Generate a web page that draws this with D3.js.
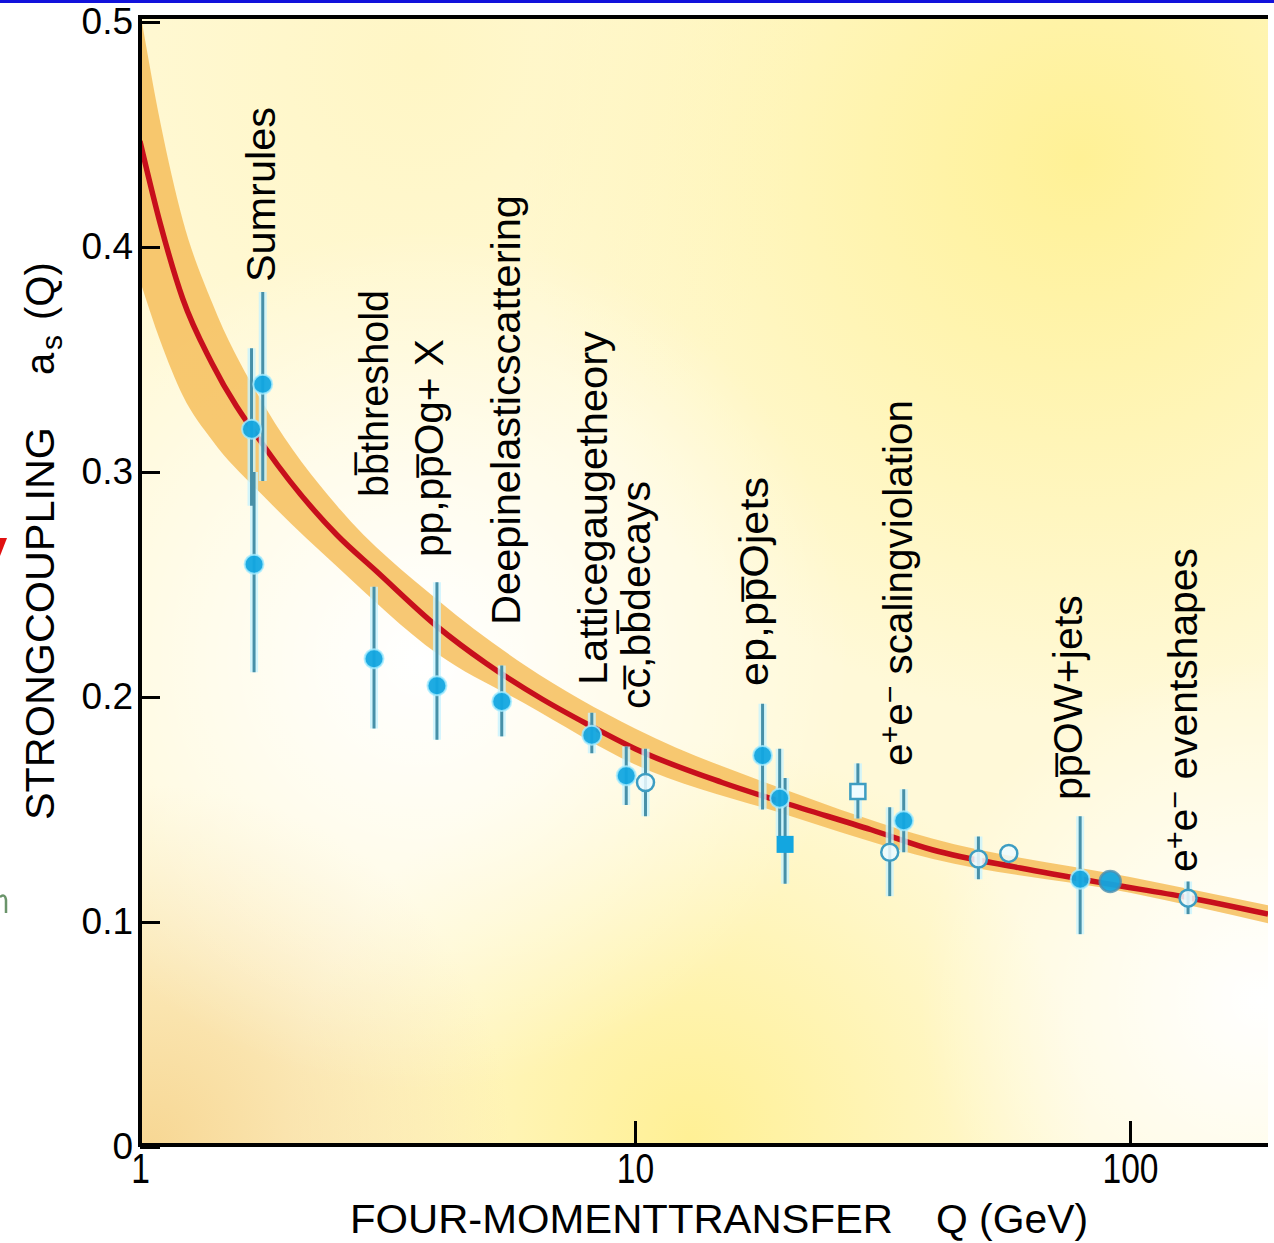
<!DOCTYPE html>
<html>
<head>
<meta charset="utf-8">
<script src="https://cdn.jsdelivr.net/npm/d3@7"></script>
<style>
body { margin: 0; background: #fff; }
svg { display: block; font-family: "Liberation Sans", Arial, sans-serif; }
</style>
</head>
<body>
<svg id="chart" width="1274" height="1243"></svg>
<script>
// running coupling curve
const curveQ = [1, 1.1, 1.22, 1.4, 1.8, 2.5, 3, 4, 5, 6.5, 8, 10, 15, 20, 30, 40, 60, 90, 130, 190];
const curveA = [0.447, 0.410, 0.377, 0.348, 0.310, 0.272, 0.256, 0.231, 0.215, 0.199, 0.188, 0.177, 0.162, 0.153, 0.141, 0.132, 0.124, 0.117, 0.111, 0.1035];

// uncertainty band
const bandQ  = [1, 1.1, 1.22, 1.4, 1.8, 2.5, 4, 6, 10, 20, 40, 100, 190];
const bandHi = [0.505, 0.455, 0.412, 0.375, 0.328, 0.285, 0.243, 0.214, 0.186, 0.159, 0.137, 0.120, 0.1075];
const bandLo = [0.385, 0.358, 0.334, 0.314, 0.288, 0.258, 0.219, 0.197, 0.170, 0.148, 0.128, 0.113, 0.0995];

// measurements: Q, alpha, error low, error high, marker
const points = [
  {q: 1.77, a: 0.339, lo: 0.296, hi: 0.380, m: "dot"},
  {q: 1.68, a: 0.319, lo: 0.285, hi: 0.355, m: "dot"},
  {q: 1.70, a: 0.259, lo: 0.211, hi: 0.300, m: "dot"},
  {q: 2.97, a: 0.217, lo: 0.186, hi: 0.249, m: "dot"},
  {q: 3.98, a: 0.205, lo: 0.181, hi: 0.251, m: "dot"},
  {q: 5.38, a: 0.198, lo: 0.1825, hi: 0.214, m: "dot"},
  {q: 8.18, a: 0.183, lo: 0.175, hi: 0.193, m: "dot"},
  {q: 9.6,  a: 0.165, lo: 0.152, hi: 0.178, m: "dot"},
  {q: 10.5, a: 0.162, lo: 0.147, hi: 0.177, m: "ring"},
  {q: 18.1, a: 0.174, lo: 0.150, hi: 0.197, m: "dot"},
  {q: 19.6, a: 0.155, lo: 0.138, hi: 0.177, m: "dot"},
  {q: 20.1, a: 0.1345, lo: 0.117, hi: 0.164, m: "square"},
  {q: 28.2, a: 0.158, lo: 0.146, hi: 0.1705, m: "box"},
  {q: 32.7, a: 0.131, lo: 0.1115, hi: 0.151, m: "ring"},
  {q: 34.9, a: 0.145, lo: 0.131, hi: 0.159, m: "dot"},
  {q: 49.4, a: 0.128, lo: 0.119, hi: 0.138, m: "ring"},
  {q: 56.9, a: 0.1305, lo: 0.1305, hi: 0.1305, m: "ring"},
  {q: 79.3, a: 0.119, lo: 0.0946, hi: 0.147, m: "dot"},
  {q: 91.2, a: 0.118, lo: 0.118, hi: 0.118, m: "zdot"},
  {q: 131,  a: 0.1106, lo: 0.1035, hi: 0.118, m: "ring"}
];

// process labels, anchored at (Q, alpha) of the text start
const labels = [
  {q: 1.874, a: 0.3844, parts: [["Sumrules"]]},
  {q: 3.17,  a: 0.2889, parts: [["bb\u0305threshold"]]},
  {q: 4.09,  a: 0.2622, parts: [["pp,pp\u0305Og+ X"]]},
  {q: 5.86,  a: 0.232,  parts: [["Deepinelasticscattering"]]},
  {q: 8.79,  a: 0.2053, parts: [["Latticegaugetheory"]]},
  {q: 10.72, a: 0.1947, parts: [["cc\u0305,bb\u0305decays"]]},
  {q: 18.6,  a: 0.2049, parts: [["ep,pp\u0305Ojets"]]},
  {q: 36.3,  a: 0.1693, parts: [["e"], ["+", "sup"], ["e"], ["\u2212", "sup"], [" scalingviolation"]]},
  {q: 80.1,  a: 0.1542, parts: [["pp\u0305OW+jets"]]},
  {q: 136.6, a: 0.1222, parts: [["e"], ["+", "sup"], ["e"], ["\u2212", "sup"], [" eventshapes"]]}
];
const labelLength = [175, 207, 218, 430, 354, 228, 209, 366, 205, 324];

const xTicks = [1, 10, 100];
const yTicks = [0, 0.1, 0.2, 0.3, 0.4, 0.5];

const svg = d3.select("#chart");
const x = d3.scaleLog().domain([1, 190]).range([140, 1268]);
const y = d3.scaleLinear().domain([0, 0.5]).range([1147, 22]);
const plotTop = 17, plotBottom = 1145;
const left = x.range()[0], right = x.range()[1];

// slide border and cut-off bits on the left edge
svg.append("rect").attr("x", 0).attr("y", 0).attr("width", 1274).attr("height", 3).attr("fill", "#1212dc");
svg.append("path").attr("d", "M0,538L7,538L0,556Z").attr("fill", "#e01010");
svg.append("path").attr("d", "M0,897Q5,893 6,900L6,913").attr("fill", "none")
  .attr("stroke", "#6a946a").attr("stroke-width", 2.5);

// background gradients
const defs = svg.append("defs");
const glows = [
  {id: "gTR", cx: 1080, cy: 160, r: 560, c: "#fff196", o: 1},
  {id: "gB", cx: 690, cy: 1140, r: 400, c: "#fff095", o: 1},
  {id: "gBL", cx: 150, cy: 1145, r: 360, c: "#f7d794", o: 1},
  {id: "gTL", cx: 420, cy: 60, r: 420, c: "#fff4b8", o: 0.6},
  {id: "gW", cx: 420, cy: 660, r: 430, c: "#ffffff", o: 1},
  {id: "gWR", cx: 1260, cy: 1000, r: 340, c: "#ffffff", o: 1}
];
glows.forEach(g => {
  const rg = defs.append("radialGradient").attr("id", g.id)
    .attr("gradientUnits", "userSpaceOnUse")
    .attr("cx", g.cx).attr("cy", g.cy).attr("r", g.r);
  rg.append("stop").attr("offset", 0).attr("stop-color", g.c).attr("stop-opacity", g.o);
  rg.append("stop").attr("offset", 1).attr("stop-color", g.c).attr("stop-opacity", 0);
});
defs.append("clipPath").attr("id", "plotClip")
  .append("rect").attr("x", left).attr("y", plotTop).attr("width", right - left).attr("height", plotBottom - plotTop);

const bg = svg.append("g");
bg.append("rect").attr("x", left).attr("y", plotTop).attr("width", right - left).attr("height", plotBottom - plotTop)
  .attr("fill", "#fff9d8");
glows.forEach(g => {
  bg.append("rect").attr("x", left).attr("y", plotTop).attr("width", right - left).attr("height", plotBottom - plotTop)
    .attr("fill", `url(#${g.id})`);
});

const plot = svg.append("g").attr("clip-path", "url(#plotClip)");

// labels
labels.forEach((l, i) => {
  const t = plot.append("text")
    .attr("transform", `translate(${x(l.q)},${y(l.a)}) rotate(-90)`)
    .attr("font-size", 40)
    .attr("fill", "#000")
    .attr("textLength", labelLength[i])
    .attr("lengthAdjust", "spacingAndGlyphs");
  l.parts.forEach(p => {
    const s = t.append("tspan").text(p[0]);
    if (p[1] === "sup") s.attr("font-size", 30).attr("baseline-shift", "40%");
  });
});

// band and curve
const band = d3.area()
  .x((d, i) => x(bandQ[i]))
  .y0((d, i) => y(bandLo[i]))
  .y1((d, i) => y(bandHi[i]))
  .curve(d3.curveMonotoneX);
plot.append("path").attr("d", band(bandQ)).attr("fill", "#f6be5c").attr("opacity", 0.85);

const line = d3.line()
  .x((d, i) => x(curveQ[i]))
  .y((d, i) => y(curveA[i]))
  .curve(d3.curveMonotoneX);
plot.append("path").attr("d", line(curveQ)).attr("fill", "none")
  .attr("stroke", "#c70f1c").attr("stroke-width", 5.5);

// error bars
const bars = points.filter(d => d.hi > d.lo);
plot.selectAll(".glow").data(bars).enter().append("line")
  .attr("class", "glow")
  .attr("x1", d => x(d.q)).attr("x2", d => x(d.q))
  .attr("y1", d => y(d.lo)).attr("y2", d => y(d.hi))
  .attr("stroke", "#c9f4ff").attr("stroke-width", 8).attr("opacity", 0.8);
plot.selectAll(".bar").data(bars).enter().append("line")
  .attr("class", "bar")
  .attr("x1", d => x(d.q)).attr("x2", d => x(d.q))
  .attr("y1", d => y(d.lo)).attr("y2", d => y(d.hi))
  .attr("stroke", "#4790a8").attr("stroke-width", 3);

// markers
points.forEach(d => {
  const cx = x(d.q), cy = y(d.a);
  if (d.m === "dot" || d.m === "zdot") {
    plot.append("circle").attr("cx", cx).attr("cy", cy).attr("r", d.m === "zdot" ? 10.5 : 9.5)
      .attr("fill", "#13a6e0").attr("fill-opacity", 0.95)
      .attr("stroke", d.m === "zdot" ? "#4a8fb0" : "#a8ecff").attr("stroke-width", d.m === "zdot" ? 2.5 : 2)
      .attr("stroke-opacity", 0.8);
  } else if (d.m === "ring") {
    plot.append("circle").attr("cx", cx).attr("cy", cy).attr("r", 8.5)
      .attr("fill", "#effcff").attr("fill-opacity", 0.85)
      .attr("stroke", "#3d9dc2").attr("stroke-width", 2.5);
  } else if (d.m === "square") {
    plot.append("rect").attr("x", cx - 8.5).attr("y", cy - 8.5).attr("width", 17).attr("height", 17)
      .attr("fill", "#13a6e0");
  } else {
    plot.append("rect").attr("x", cx - 7.5).attr("y", cy - 7.5).attr("width", 15).attr("height", 15)
      .attr("fill", "#effcff").attr("stroke", "#3d9dc2").attr("stroke-width", 2.5);
  }
});

// axes
const yAxis = d3.axisLeft(y).tickValues(yTicks).tickSize(-20).tickPadding(7)
  .tickFormat(d => d === 0 ? "0" : d3.format(".1f")(d));
const yg = svg.append("g").attr("transform", `translate(${left},0)`).call(yAxis);
yg.select(".domain").remove();
yg.selectAll(".tick line").attr("stroke", "#000").attr("stroke-width", 3);
yg.selectAll(".tick text").attr("font-size", 37).attr("fill", "#000")
  .attr("font-family", "Liberation Sans, Arial, sans-serif");

const xAxis = d3.axisBottom(x).tickValues(xTicks).tickSize(-24).tickPadding(8)
  .tickFormat(d3.format("d"));
const xg = svg.append("g").attr("transform", `translate(0,${plotBottom})`).call(xAxis);
xg.select(".domain").remove();
xg.selectAll(".tick line").attr("stroke", "#000").attr("stroke-width", 3);
xg.selectAll(".tick text").attr("font-size", 42).attr("fill", "#000")
  .attr("font-family", "Liberation Sans, Arial, sans-serif")
  .attr("transform", "scale(0.8,1)");

// frame
const frame = svg.append("g").attr("stroke", "#000").attr("stroke-width", 4);
frame.append("line").attr("x1", left).attr("x2", left).attr("y1", plotTop - 2).attr("y2", plotBottom + 2);
frame.append("line").attr("x1", left).attr("x2", right).attr("y1", plotTop).attr("y2", plotTop);
frame.append("line").attr("x1", left).attr("x2", right).attr("y1", plotBottom).attr("y2", plotBottom);

// axis titles
svg.append("text").attr("x", 350).attr("y", 1233).attr("font-size", 41)
  .attr("textLength", 543).attr("lengthAdjust", "spacingAndGlyphs")
  .text("FOUR-MOMENTTRANSFER");
svg.append("text").attr("x", 936).attr("y", 1233).attr("font-size", 41)
  .attr("textLength", 152).attr("lengthAdjust", "spacingAndGlyphs")
  .text("Q (GeV)");

const yt = svg.append("g").attr("transform", "translate(54,820) rotate(-90)");
yt.append("text").attr("x", 0).attr("y", 0).attr("font-size", 40)
  .attr("textLength", 393).attr("lengthAdjust", "spacingAndGlyphs")
  .text("STRONGCOUPLING");
const ya = yt.append("text").attr("y", 0).attr("font-size", 40);
ya.append("tspan").attr("x", 445).text("a");
ya.append("tspan").attr("x", 470).attr("dy", 8).attr("font-size", 30).text("s");
ya.append("tspan").attr("x", 500).attr("dy", -8).text("(Q)");
</script>
</body>
</html>
